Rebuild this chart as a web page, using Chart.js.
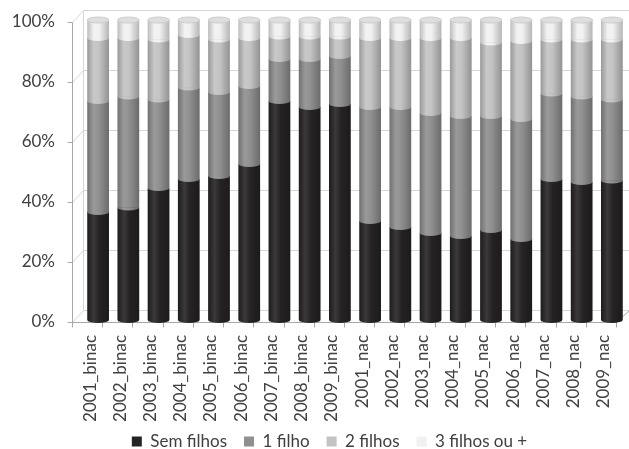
<!DOCTYPE html>
<html>
<head>
<meta charset="utf-8">
<script src="https://cdn.jsdelivr.net/npm/chart.js@4/dist/chart.umd.min.js"></script>
<style>
  html, body { margin: 0; padding: 0; background: #ffffff; }
  #wrap { width: 629px; height: 449px; }
</style>
</head>
<body>
<div id="wrap"><canvas id="c" width="629" height="449"></canvas></div>
<script>
// Categories: years for two-parent (binac) and one-parent (nac) households
const categories = [
  '2001_binac', '2002_binac', '2003_binac', '2004_binac', '2005_binac',
  '2006_binac', '2007_binac', '2008_binac', '2009_binac',
  '2001_nac', '2002_nac', '2003_nac', '2004_nac', '2005_nac',
  '2006_nac', '2007_nac', '2008_nac', '2009_nac'
];

// Share of households (%) by number of children
const semFilhos  = [36, 37.5, 44, 47, 48, 52, 73, 71, 72, 33, 31, 29, 28, 30, 27, 47, 46, 46.5];
const umFilho    = [37, 37, 29.5, 30.5, 28, 26, 14, 16, 16, 38, 40, 40, 40, 38, 40, 28.5, 28.5, 27];
const doisFilhos = [21, 19.5, 20, 17.5, 17.5, 16, 7.5, 7.5, 6.5, 23, 23, 25, 26, 24.5, 26, 18, 19, 20];
const tresFilhos = [6, 6, 6.5, 5, 6.5, 6, 5.5, 5.5, 5.5, 6, 6, 6, 6, 7.5, 7, 6.5, 6.5, 6.5];

const seriesNames = ['Sem filhos', '1 filho', '2 filhos', '3 filhos ou +'];
const seriesValues = [semFilhos, umFilho, doisFilhos, tresFilhos];
const yTicks = [0, 20, 40, 60, 80, 100];

const baseColors = ['#262324', '#8f8f8f', '#c3c3c3', '#f1f1f1'];
const FONT = 'Lato, "Open Sans", "Liberation Sans", sans-serif';
const TEXT = '#404040';
const CAP_RY = 3;

function shade(hex, amt) {
  const n = parseInt(hex.slice(1), 16);
  let r = (n >> 16) & 255, g = (n >> 8) & 255, b = n & 255;
  const t = amt > 0 ? 255 : 0, p = Math.abs(amt);
  r = Math.round(r + (t - r) * p);
  g = Math.round(g + (t - g) * p);
  b = Math.round(b + (t - b) * p);
  return 'rgb(' + r + ',' + g + ',' + b + ')';
}

// Horizontal gradient that gives each column a rounded, cylinder-like look
function cylGrad(ctx, x, w, color) {
  const g = ctx.createLinearGradient(x - w / 2, 0, x + w / 2, 0);
  g.addColorStop(0, shade(color, -0.22));
  g.addColorStop(0.3, shade(color, 0.1));
  g.addColorStop(0.55, color);
  g.addColorStop(1, shade(color, -0.25));
  return g;
}

function barWidthOf(chart) {
  const xs = chart.scales.x;
  return xs.width / categories.length * 0.8 * 0.9;
}

function scriptedFill(d) {
  return function (c) {
    const chart = c.chart;
    const xs = chart.scales && chart.scales.x;
    if (!xs || !chart.chartArea || c.type !== 'data') return baseColors[d];
    const x = xs.getPixelForValue(c.dataIndex);
    return cylGrad(chart.ctx, x, barWidthOf(chart), baseColors[d]);
  };
}

// Pseudo-3D frame: back wall gridlines, front axis, floor
const framePlugin = {
  id: 'frame3d',
  beforeDatasetsDraw(chart) {
    const ctx = chart.ctx, xs = chart.scales.x, ys = chart.scales.y;
    const L = chart.chartArea.left, R = chart.chartArea.right;
    const FX = -11, FY = 2, BY = -10;
    const px = v => Math.round(v) + 0.5;
    ctx.save();
    ctx.lineWidth = 1;
    ctx.strokeStyle = '#d6d6d6';
    yTicks.forEach(v => {
      const y = ys.getPixelForValue(v);
      ctx.beginPath();
      ctx.moveTo(px(L + FX), px(y + FY));
      ctx.lineTo(px(L), px(y + BY));
      ctx.lineTo(px(R + 2), px(y + BY));
      ctx.stroke();
    });
    const y0 = ys.getPixelForValue(0), y1 = ys.getPixelForValue(100);
    ctx.beginPath();
    ctx.moveTo(px(L), px(y1 + BY));
    ctx.lineTo(px(L), px(y0 + BY));
    ctx.stroke();

    ctx.strokeStyle = '#a8a8a8';
    ctx.beginPath();
    ctx.moveTo(px(L + FX), px(y1 + FY));
    ctx.lineTo(px(L + FX), px(y0 + FY));
    ctx.stroke();
    yTicks.forEach(v => {
      const y = ys.getPixelForValue(v);
      ctx.beginPath();
      ctx.moveTo(px(L + FX - 5), px(y + FY));
      ctx.lineTo(px(L + FX), px(y + FY));
      ctx.stroke();
    });
    ctx.beginPath();
    ctx.moveTo(px(L + FX), px(y0 + FY));
    ctx.lineTo(px(R + FX), px(y0 + FY));
    ctx.lineTo(px(R + 2), px(y0 + BY));
    ctx.stroke();
    const half = (xs.getPixelForValue(1) - xs.getPixelForValue(0)) / 2;
    for (let k = 0; k <= categories.length; k++) {
      const bx = xs.getPixelForValue(k) - half + FX;
      ctx.beginPath();
      ctx.moveTo(px(bx), px(y0 + FY));
      ctx.lineTo(px(bx), px(y0 + FY + 5));
      ctx.stroke();
    }
    ctx.restore();
  }
};

// Elliptical segment edges and top faces for the cylindrical columns
const capsPlugin = {
  id: 'cylinderCaps',
  afterDatasetsDraw(chart) {
    const ctx = chart.ctx;
    const n = chart.data.datasets.length;
    ctx.save();
    for (let i = 0; i < categories.length; i++) {
      for (let d = 0; d < n; d++) {
        const el = chart.getDatasetMeta(d).data[i];
        if (!el) continue;
        const p = el.getProps(['x', 'y', 'base', 'width'], true);
        const rx = p.width / 2;
        ctx.fillStyle = cylGrad(ctx, p.x, p.width, baseColors[d]);
        ctx.beginPath();
        ctx.ellipse(p.x, p.base, rx, CAP_RY, 0, 0, Math.PI);
        ctx.fill();
        if (d === n - 1) {
          ctx.beginPath();
          ctx.ellipse(p.x, p.y, rx, CAP_RY, 0, 0, Math.PI * 2);
          ctx.fillStyle = '#dedede';
          ctx.fill();
          ctx.strokeStyle = '#cdcdcd';
          ctx.lineWidth = 1;
          ctx.stroke();
        }
      }
    }
    ctx.restore();
  }
};

// Nudge the legend row so it sits under the plot, slightly right of centre
const legendShift = {
  id: 'legendShift',
  afterLayout(chart) {
    const lg = chart.legend;
    if (!lg) return;
    lg.left += 16;
    lg.right += 16;
    lg.top -= 5;
    lg.bottom -= 5;
  }
};

const datasets = seriesNames.map((name, d) => ({
  label: name,
  data: seriesValues[d],
  backgroundColor: scriptedFill(d),
  borderWidth: 0,
  stack: 'total'
}));

new Chart(document.getElementById('c'), {
  type: 'bar',
  data: { labels: categories, datasets },
  plugins: [framePlugin, capsPlugin, legendShift],
  options: {
    responsive: false,
    devicePixelRatio: 1,
    animation: false,
    layout: { padding: { top: 20, right: 2, bottom: -16, left: 0 } },
    plugins: {
      tooltip: { enabled: false },
      legend: {
        position: 'bottom',
        labels: {
          font: { family: FONT, size: 17 },
          color: TEXT,
          boxWidth: 10,
          boxHeight: 10,
          padding: 17,
          generateLabels(chart) {
            return Chart.defaults.plugins.legend.labels.generateLabels(chart).map((it, i) => {
              it.fillStyle = baseColors[i];
              it.strokeStyle = baseColors[i];
              it.lineWidth = 0;
              return it;
            });
          }
        }
      }
    },
    scales: {
      x: {
        stacked: true,
        clip: false,
        grid: { display: false, drawTicks: false },
        border: { display: false },
        ticks: {
          font: { family: FONT, size: 17 },
          color: TEXT,
          minRotation: 90,
          maxRotation: 90,
          autoSkip: false,
          padding: 15,
          labelOffset: -8
        },
        afterFit(scale) {
          scale.height = 101;
          scale.paddingLeft = 0;
          scale.paddingRight = 0;
        }
      },
      y: {
        stacked: true,
        min: 0,
        max: 100,
        grid: { display: false, drawTicks: false },
        border: { display: false },
        ticks: {
          stepSize: 20,
          font: { family: FONT, size: 17 },
          color: TEXT,
          padding: 28,
          labelOffset: 2,
          callback: v => v + '%'
        },
        afterFit(scale) {
          scale.width = 83;
          scale.paddingTop = 0;
          scale.paddingBottom = 0;
        }
      }
    }
  }
});
</script>
</body>
</html>
